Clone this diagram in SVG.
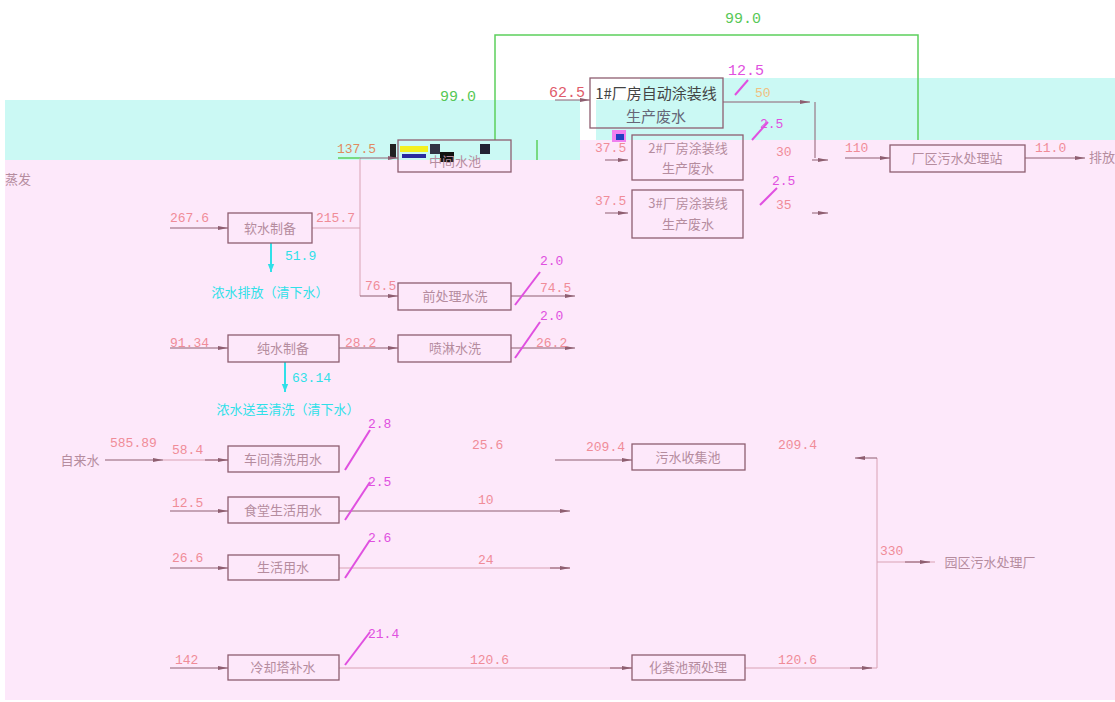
<svg xmlns="http://www.w3.org/2000/svg" width="1115" height="702" viewBox="0 0 1115 702">
<style>
.bx{fill:none;stroke:#8e5e70;stroke-width:1.3}
.bt{font-family:"Noto Sans CJK SC","Liberation Sans",sans-serif;font-size:13px;fill:#b58c9e;text-anchor:middle}
.lb{font-family:"Liberation Mono",monospace;font-size:13px;fill:#f08c98}
.mg{font-family:"Liberation Mono",monospace;font-size:13px;fill:#e050e0}
.gn{font-family:"Liberation Mono",monospace;font-size:15px;fill:#58c858}
.cy{font-family:"Noto Sans CJK SC","Liberation Sans",sans-serif;font-size:13px;fill:#30e0e8}
.ln{fill:none;stroke:#d9a2b4;stroke-width:1}
.dk{fill:none;stroke:#8e5e70;stroke-width:1}
.gl{fill:none;stroke:#5ccf5c;stroke-width:1.5}
.cl{fill:none;stroke:#30e0e8;stroke-width:2}
.sl{fill:none;stroke:#e050e0;stroke-width:2}
</style>
<defs>
<marker id="ah" viewBox="0 0 10 6" refX="10" refY="3" markerWidth="10" markerHeight="6" orient="auto" markerUnits="userSpaceOnUse">
<path d="M0,1 L10,3 L0,5 z" fill="#8e5e70"/>
</marker>
<marker id="ac" viewBox="0 0 10 8" refX="10" refY="4" markerWidth="8" markerHeight="8" orient="auto" markerUnits="userSpaceOnUse">
<path d="M0,0 L10,4 L0,8 z" fill="#30e0e8"/>
</marker>
</defs>
<rect x="0" y="0" width="1115" height="702" fill="#ffffff"/>
<rect x="5" y="140" width="1110" height="560" fill="#fde8fa"/>
<rect x="5" y="100" width="575" height="60" fill="#cbf9f4"/>
<rect x="596" y="78" width="519" height="62" fill="#cbf9f4"/>
<rect x="590" y="78" width="50" height="22" fill="#ffffff"/>
<g id="glitch">
<rect x="390" y="144" width="6" height="14" fill="#222"/>
<rect x="400" y="146" width="28" height="6" fill="#f4f020"/>
<rect x="430" y="144" width="10" height="10" fill="#334"/>
<rect x="402" y="154" width="24" height="4" fill="#2a2aa0"/>
<rect x="440" y="152" width="14" height="10" fill="#111"/>
<rect x="480" y="144" width="10" height="10" fill="#223"/>
<rect x="612" y="130" width="14" height="12" fill="#f080f0"/>
<rect x="616" y="134" width="8" height="6" fill="#2040c0"/>
</g>
<g id="connectors">
<path class="gl" d="M495,140 V35 H918 V140"/>
<path class="gl" d="M537,140 V160"/>
<path class="gl" d="M338,158 H360"/>
<path class="dk" d="M555,100 H590" marker-end="url(#ah)"/>
<path class="dk" d="M723,102 H810" marker-end="url(#ah)"/>
<path class="dk" d="M815,102 V158"/>
<path class="dk" d="M812,160 H828" marker-end="url(#ah)"/>
<path class="dk" d="M812,213 H828" marker-end="url(#ah)"/>
<path class="dk" d="M845,158 H890" marker-end="url(#ah)"/>
<path class="dk" d="M1025,158 H1085" marker-end="url(#ah)"/>
<path class="dk" d="M605,160 H628" marker-end="url(#ah)"/>
<path class="dk" d="M605,213 H628" marker-end="url(#ah)"/>
<path class="ln" d="M360,158 V296"/>
<path class="dk" d="M360,158 H398" marker-end="url(#ah)"/>
<path class="dk" d="M170,228 H228" marker-end="url(#ah)"/>
<path class="ln" d="M312,228 H360"/>
<path class="dk" d="M360,296 H398" marker-end="url(#ah)"/>
<path class="dk" d="M511,296 H575" marker-end="url(#ah)"/>
<path class="cl" d="M271,243 V272" marker-end="url(#ac)"/>
<path class="dk" d="M170,348 H228" marker-end="url(#ah)"/>
<path class="dk" d="M339,348 H398" marker-end="url(#ah)"/>
<path class="dk" d="M511,348 H575" marker-end="url(#ah)"/>
<path class="cl" d="M285,362 V392" marker-end="url(#ac)"/>
<path class="dk" d="M105,460 H163" marker-end="url(#ah)"/>
<path class="ln" d="M163,460 H228"/>
<path class="dk" d="M205,460 H228" marker-end="url(#ah)"/>
<path class="dk" d="M555,460 H632" marker-end="url(#ah)"/>
<path class="dk" d="M170,511 H228" marker-end="url(#ah)"/>
<path class="dk" d="M339,511 H570" marker-end="url(#ah)"/>
<path class="dk" d="M170,568 H228" marker-end="url(#ah)"/>
<path class="ln" d="M339,568 H570"/>
<path class="dk" d="M550,568 H570" marker-end="url(#ah)"/>
<path class="dk" d="M170,668 H228" marker-end="url(#ah)"/>
<path class="ln" d="M339,668 H632"/>
<path class="dk" d="M610,668 H632" marker-end="url(#ah)"/>
<path class="ln" d="M745,668 H877 V458"/>
<path class="dk" d="M850,668 H872" marker-end="url(#ah)"/>
<path class="dk" d="M877,458 H855" marker-end="url(#ah)"/>
<path class="ln" d="M877,562 H935"/>
<path class="dk" d="M905,562 H930" marker-end="url(#ah)"/>
<path class="sl" d="M735,95 L748,80"/>
<path class="sl" d="M752,140 L768,122"/>
<path class="sl" d="M760,205 L777,188"/>
<path class="sl" d="M515,305 L540,272"/>
<path class="sl" d="M515,358 L540,322"/>
<path class="sl" d="M345,470 L370,430"/>
<path class="sl" d="M345,520 L370,482"/>
<path class="sl" d="M345,578 L370,540"/>
<path class="sl" d="M345,665 L370,632"/>
</g>
<g id="n1"><rect class="bx" x="590" y="78" width="133" height="50"/><text class="bt" x="656" y="99" style="fill:#444;font-size:15px">1#厂房自动涂装线</text><text class="bt" x="656" y="122" style="fill:#667;font-size:15px">生产废水</text></g>
<g id="n2"><rect class="bx" x="398" y="140" width="113" height="32"/><text class="bt" x="455" y="166">中间水池</text></g>
<g id="n3"><rect class="bx" x="632" y="135" width="111" height="45"/><text class="bt" x="688" y="153">2#厂房涂装线</text><text class="bt" x="688" y="173">生产废水</text></g>
<g id="n4"><rect class="bx" x="632" y="190" width="111" height="48"/><text class="bt" x="688" y="208">3#厂房涂装线</text><text class="bt" x="688" y="229">生产废水</text></g>
<g id="n5"><rect class="bx" x="890" y="145" width="135" height="27"/><text class="bt" x="957" y="163">厂区污水处理站</text></g>
<g id="n6"><rect class="bx" x="228" y="213" width="84" height="30"/><text class="bt" x="270" y="233">软水制备</text></g>
<g id="n7"><rect class="bx" x="398" y="283" width="113" height="27"/><text class="bt" x="455" y="301">前处理水洗</text></g>
<g id="n8"><rect class="bx" x="228" y="335" width="111" height="27"/><text class="bt" x="283" y="353">纯水制备</text></g>
<g id="n9"><rect class="bx" x="398" y="335" width="113" height="27"/><text class="bt" x="455" y="353">喷淋水洗</text></g>
<g id="n10"><rect class="bx" x="228" y="446" width="111" height="26"/><text class="bt" x="283" y="464">车间清洗用水</text></g>
<g id="n11"><rect class="bx" x="228" y="497" width="111" height="26"/><text class="bt" x="283" y="515">食堂生活用水</text></g>
<g id="n12"><rect class="bx" x="228" y="555" width="111" height="25"/><text class="bt" x="283" y="572">生活用水</text></g>
<g id="n13"><rect class="bx" x="228" y="655" width="111" height="25"/><text class="bt" x="283" y="672">冷却塔补水</text></g>
<g id="n14"><rect class="bx" x="632" y="444" width="113" height="26"/><text class="bt" x="688" y="462">污水收集池</text></g>
<g id="n15"><rect class="bx" x="632" y="655" width="113" height="25"/><text class="bt" x="688" y="672">化粪池预处理</text></g>
<g id="labels">
<text class="gn" x="725" y="23">99.0</text>
<text class="gn" x="440" y="101">99.0</text>
<text class="lb" x="549" y="97" style="fill:#e05a6a;font-size:15px">62.5</text>
<text class="mg" x="728" y="75" style="font-size:15px">12.5</text>
<text class="lb" x="755" y="97" style="fill:#f0c080">50</text>
<text class="mg" x="760" y="128">2.5</text>
<text class="lb" x="776" y="156">30</text>
<text class="mg" x="772" y="185">2.5</text>
<text class="lb" x="776" y="209">35</text>
<text class="lb" x="595" y="152">37.5</text>
<text class="lb" x="595" y="205">37.5</text>
<text class="lb" x="845" y="152">110</text>
<text class="lb" x="1035" y="152">11.0</text>
<text class="bt" x="1102" y="162">排放</text>
<text class="lb" x="337" y="153" style="fill:#e08a60">137.5</text>
<text class="bt" x="18" y="184">蒸发</text>
<text class="lb" x="170" y="222">267.6</text>
<text class="lb" x="316" y="222">215.7</text>
<text class="cy" x="285" y="260" style="font-family:'Liberation Mono',monospace">51.9</text>
<text class="cy" x="270" y="297" text-anchor="middle">浓水排放（清下水）</text>
<text class="lb" x="365" y="290">76.5</text>
<text class="mg" x="540" y="265">2.0</text>
<text class="lb" x="540" y="292">74.5</text>
<text class="lb" x="170" y="347">91.34</text>
<text class="lb" x="345" y="347">28.2</text>
<text class="mg" x="540" y="320">2.0</text>
<text class="lb" x="536" y="347">26.2</text>
<text class="cy" x="292" y="382" style="font-family:'Liberation Mono',monospace">63.14</text>
<text class="cy" x="288" y="414" text-anchor="middle">浓水送至清洗（清下水）</text>
<text class="bt" x="80" y="465">自来水</text>
<text class="lb" x="110" y="447">585.89</text>
<text class="lb" x="172" y="454">58.4</text>
<text class="mg" x="368" y="428">2.8</text>
<text class="lb" x="472" y="449">25.6</text>
<text class="lb" x="586" y="451">209.4</text>
<text class="lb" x="778" y="449">209.4</text>
<text class="lb" x="172" y="507">12.5</text>
<text class="mg" x="368" y="486">2.5</text>
<text class="lb" x="478" y="504">10</text>
<text class="lb" x="172" y="562">26.6</text>
<text class="mg" x="368" y="542">2.6</text>
<text class="lb" x="478" y="564">24</text>
<text class="lb" x="175" y="664">142</text>
<text class="mg" x="368" y="638">21.4</text>
<text class="lb" x="470" y="664">120.6</text>
<text class="lb" x="778" y="664">120.6</text>
<text class="lb" x="880" y="555">330</text>
<text class="bt" x="990" y="567">园区污水处理厂</text>
</g>
</svg>
